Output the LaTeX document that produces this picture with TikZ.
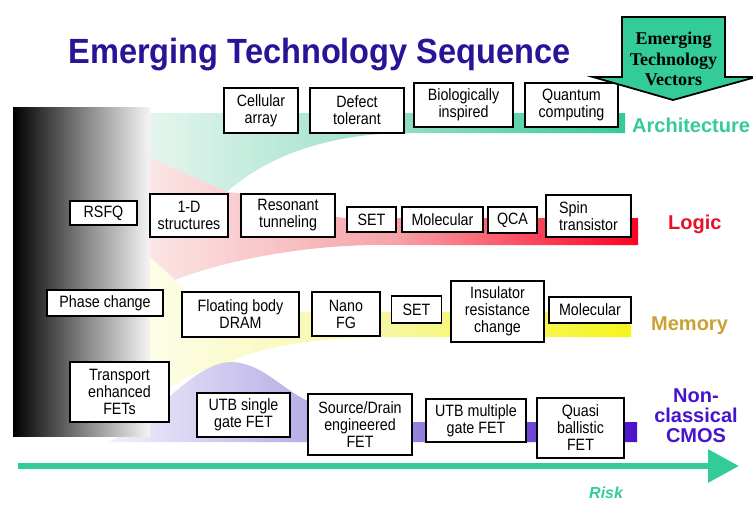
\documentclass[tikz,border=0pt]{standalone}
\usepackage{fontspec}
\setmainfont{Liberation Sans}
\newfontfamily\boxfont{Liberation Sans}[FakeStretch=0.87]
\newfontfamily\titlefont{Liberation Sans}[FakeStretch=0.93]
\newfontfamily\vecfont{Liberation Serif}
\usetikzlibrary{arrows.meta}

\definecolor{vecgreen}{RGB}{51,204,153}
\definecolor{titleblue}{RGB}{40,20,150}
\definecolor{archgreen}{RGB}{51,204,153}
\definecolor{logicred}{RGB}{234,16,42}
\definecolor{memgold}{RGB}{201,161,52}
\definecolor{cmosblue}{RGB}{70,20,204}
% fan shading colours (light -> mid -> saturated)
\definecolor{gL}{RGB}{229,245,238}
\definecolor{gM}{RGB}{152,223,198}
\definecolor{gR}{RGB}{51,204,153}
\definecolor{rL}{RGB}{251,229,229}
\definecolor{rM}{RGB}{246,163,168}
\definecolor{rR}{RGB}{255,0,34}
\definecolor{yL}{RGB}{253,253,232}
\definecolor{yM}{RGB}{247,247,160}
\definecolor{yR}{RGB}{245,245,30}
\definecolor{bL}{RGB}{242,240,251}
\definecolor{bM}{RGB}{165,151,224}
\definecolor{bR}{RGB}{74,18,204}

\tikzset{
  tbox/.style={draw=black, line width=1.5pt, fill=white, inner sep=0pt,
    align=center, font=\boxfont\fontsize{16.4}{17}\selectfont},
  rowlabel/.style={font=\bfseries\fontsize{20}{20}\selectfont, inner sep=0pt},
}

\begin{document}
\begin{tikzpicture}[x=1pt,y=-1pt]
\useasboundingbox (0,0) rectangle (753,506);
\fill[white] (0,0) rectangle (753,506);

% ---- fans spreading towards the four technology bands ----
% architecture
\path[left color=gL, right color=gR, middle color=gM]
  (150,113) -- (625,113) -- (625,133) -- (400,133)
  .. controls (320,135) and (262,160) .. (227,192) -- (150,158) -- cycle;
% logic
\path[left color=rL, right color=rR, middle color=rM]
  (150,158) -- (227,192) .. controls (280,196) and (318,216) .. (345,218)
  -- (638,218) -- (638,245) -- (380,245)
  .. controls (300,245) and (220,262) .. (175,280) -- (150,257) -- cycle;
% memory
\path[left color=yL, right color=yR, middle color=yM]
  (150,257) -- (175,280) -- (205,312) -- (631,312) -- (631,337) -- (380,337)
  .. controls (320,338) and (265,345) .. (230,362)
  .. controls (200,368) and (170,385) .. (150,402) -- cycle;
% non-classical CMOS
\path[left color=bL, right color=bR, middle color=bM]
  (108,442) .. controls (150,425) and (190,364) .. (230,362)
  .. controls (262,362) and (282,390) .. (310,402)
  .. controls (330,412) and (345,422) .. (372,422)
  -- (637,422) -- (637,442) -- cycle;

% ---- dark origin block ----
\path[left color=black, right color=white!96!black, middle color=black!50]
  (13,107) rectangle (150,436);

% ---- title ----
\node[anchor=base, inner sep=0pt, text=titleblue,
  font=\titlefont\bfseries\fontsize{35}{40}\selectfont]
  (title) at (319.5,63) {Emerging Technology Sequence};

% ---- architecture row ----
\node[tbox, minimum width=74pt, minimum height=45pt] (cell)    at (261,110.5) {Cellular\\array};
\node[tbox, minimum width=94pt, minimum height=45pt] (defect)  at (357,110.5) {Defect\\tolerant};
\node[tbox, minimum width=99pt, minimum height=44pt] (bio)     at (463.5,105) {Biologically\\inspired};
\node[tbox, minimum width=93pt, minimum height=44pt] (quantum) at (571.5,105) {Quantum\\computing};

% ---- logic row ----
\node[tbox, minimum width=67pt, minimum height=24pt] (rsfq)  at (103.5,213) {RSFQ};
\node[tbox, minimum width=78pt, minimum height=43pt] (oned)  at (189,215.5) {1-D\\structures};
\node[tbox, minimum width=94pt, minimum height=43pt] (reson) at (288,215.5) {Resonant\\tunneling};
\node[tbox, minimum width=49pt, minimum height=25pt] (setl)  at (371.5,219.5) {SET};
\node[tbox, minimum width=81pt, minimum height=25pt] (moll)  at (442.5,219.5) {Molecular};
\node[tbox, minimum width=49pt, minimum height=26pt] (qca)   at (512.5,220) {QCA};
\node[tbox, minimum width=85pt, minimum height=42pt, align=left] (spin) at (588.5,216) {Spin\\transistor};

% ---- memory row ----
\node[tbox, minimum width=116pt, minimum height=26pt] (phase)  at (105,303) {Phase change};
\node[tbox, minimum width=117pt, minimum height=45pt] (fbody)  at (240.5,314.5) {Floating body\\DRAM};
\node[tbox, minimum width=68pt,  minimum height=44pt] (nanofg) at (346,314) {Nano\\FG};
\node[tbox, minimum width=50pt,  minimum height=27pt] (setm)   at (416.5,309.5) {SET};
\node[tbox, minimum width=93pt,  minimum height=61pt] (insul)  at (497.5,311.5) {Insulator\\resistance\\change};
\node[tbox, minimum width=82pt,  minimum height=26pt] (molm)   at (590,310) {Molecular};

% ---- non-classical CMOS row ----
\node[tbox, minimum width=99pt,  minimum height=60pt] (transp) at (119.5,392) {Transport\\enhanced\\FETs};
\node[tbox, minimum width=93pt,  minimum height=44pt] (utbs)   at (243.5,415) {UTB single\\gate FET};
\node[tbox, minimum width=104pt, minimum height=61pt] (sd)     at (360,424.5) {Source/Drain\\engineered\\FET};
\node[tbox, minimum width=100pt, minimum height=43pt] (utbm)   at (476,420.5) {UTB multiple\\gate FET};
\node[tbox, minimum width=87pt,  minimum height=60pt] (quasi)  at (580.5,428) {Quasi\\ballistic\\FET};

% ---- row labels ----
\node[rowlabel, text=archgreen,  anchor=base west] (archlabel)  at (632,132) {Architecture};
\node[rowlabel, text=logicred,   anchor=base west] (logiclabel) at (668,229) {Logic};
\node[rowlabel, text=memgold,    anchor=base west] (memlabel)   at (651,330) {Memory};
\node[rowlabel, text=cmosblue, align=center] (cmoslabel) at (696,416) {Non-\\classical\\CMOS};

% ---- "Emerging Technology Vectors" block arrow ----
\draw[fill=vecgreen, draw=black, line width=1.8pt, line join=miter]
  (622,17) -- (725,17) -- (725,77) -- (756,77) -- (673,100) -- (593,77) -- (622,77) -- cycle;
\node[align=center, inner sep=0pt, font=\vecfont\bfseries\fontsize{18}{20.5}\selectfont]
  (vectext) at (673.5,59) {Emerging\\Technology\\Vectors};

% ---- risk axis ----
\coordinate (riskstart) at (18,466);
\coordinate (riskend) at (739,466);
\draw[vecgreen, line width=6pt, -{Triangle[length=31pt,width=32pt]}] (riskstart) -- (riskend);
\node[anchor=base west, inner sep=0pt, text=vecgreen,
  font=\bfseries\itshape\fontsize{16}{16}\selectfont] (risklabel) at (589,498) {Risk};

\end{tikzpicture}
\end{document}
